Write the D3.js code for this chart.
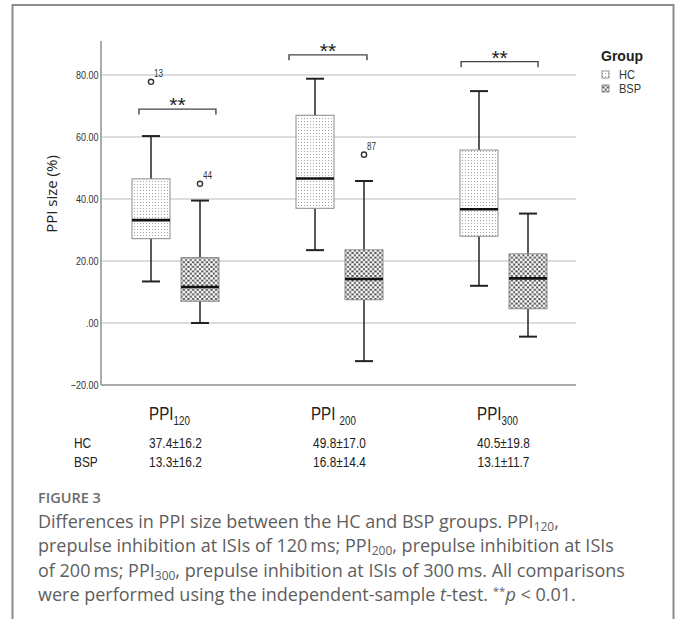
<!DOCTYPE html>
<html><head><meta charset="utf-8">
<script src="https://cdn.jsdelivr.net/npm/d3@7"></script>
<style>
body{margin:0;background:#fff}
svg{display:block}
.narrow{font-family:'Liberation Sans',Arial,sans-serif}
.cap{font-family:'Open Sans','Noto Sans',sans-serif}
</style></head><body>
<svg id="c" width="677" height="619"></svg>
<script>
// ---- data ----
const categories = ["PPI120", "PPI200", "PPI300"];
const catMain = ["PPI", "PPI ", "PPI"];
const catSub = ["120", "200", "300"];
const groups = ["HC", "BSP"];
// five-number summaries [min, q1, median, q3, max]
const hcBox = [[13.4, 27.2, 33.2, 46.5, 60.3], [23.5, 37.0, 46.6, 67.0, 78.8], [12.0, 28.0, 36.7, 55.8, 74.8]];
const bspBox = [[0.0, 7.0, 11.6, 21.1, 39.5], [-12.3, 7.5, 14.2, 23.6, 45.8], [-4.4, 4.6, 14.4, 22.3, 35.3]];
// outliers: [category index, group, value, case label]
const outliers = [[0, "HC", 77.8, "13"], [0, "BSP", 44.9, "44"], [1, "BSP", 54.3, "87"]];
// significance brackets: [category index, y value, from, to] (from/to in group-offset units, HC=-1, BSP=+1)
const brackets = [[0, 69.0, -1.49, 1.65], [1, 86.5, -2.06, 1.12], [2, 84.3, -1.73, 1.41]];
const yTicks = [80, 60, 40, 20, 0, -20];
const hcMeans = ["37.4±16.2", "49.8±17.0", "40.5±19.8"];
const bspMeans = ["13.3±16.2", "16.8±14.4", "13.1±11.7"];

const NARROW = 0.82; // horizontal condensing for the narrow SPSS font
const svg = d3.select("#c");
const defs = svg.append("defs");
// dotted pattern (HC)
const pd = defs.append("pattern").attr("id", "dots").attr("patternUnits", "userSpaceOnUse").attr("width", 3).attr("height", 3);
pd.append("rect").attr("width", 3).attr("height", 3).attr("fill", "#fff");
pd.append("rect").attr("x", 1).attr("y", 1).attr("width", 1).attr("height", 1).attr("fill", "#a3a3a3");
// lattice pattern (BSP)
const pl = defs.append("pattern").attr("id", "lattice").attr("patternUnits", "userSpaceOnUse").attr("width", 4.6).attr("height", 4.6);
pl.append("rect").attr("width", 4.6).attr("height", 4.6).attr("fill", "#1e1e1e");
[[0,0],[4.6,0],[0,4.6],[4.6,4.6],[2.3,2.3]].forEach(p => pl.append("circle").attr("cx", p[0]).attr("cy", p[1]).attr("r", 1.52).attr("fill", "#fff"));

// frame
svg.append("rect").attr("x", 12.5).attr("y", 5).attr("width", 661).attr("height", 660)
  .attr("fill", "none").attr("stroke", "#8c8c8c").attr("stroke-width", 2);

// scales
const y = d3.scaleLinear().domain([-20, 91]).range([385, 40.9]);
const x = d3.scalePoint().domain(categories).range([175.5, 503.5]);
const xin = d3.scaleLinear().domain([-1, 1]).range([-24.5, 24.5]);
const gOff = g => g === "HC" ? xin(-1) : xin(1);
const boxW = 38, capW = 18;
const plotL = 101, plotR = 576;

function narrowText(parent, px, py, size, anchor) {
  return parent.append("g").attr("transform", `translate(${px},${py}) scale(${NARROW},1)`)
    .append("text").attr("class", "narrow").attr("font-size", size).attr("text-anchor", anchor || "start").attr("fill", "#222");
}

// grid lines
svg.append("g").selectAll("line").data(yTicks.filter(d => d > -20)).join("line")
  .attr("x1", plotL).attr("x2", plotR).attr("y1", d => y(d)).attr("y2", d => y(d))
  .attr("stroke", "#d2d2d2").attr("stroke-width", 1.5);

// y axis
const yAxis = d3.axisLeft(y).tickValues(yTicks).tickSize(0).tickPadding(3)
  .tickFormat(d => d === 0 ? ".00" : d3.format(".2f")(d));
const ya = svg.append("g").attr("transform", `translate(${plotL},0)`).call(yAxis);
ya.select(".domain").remove();
ya.selectAll("text").attr("class", "narrow").attr("font-size", 11).attr("fill", "#333")
  .attr("transform", `scale(${NARROW},1)`);
svg.append("line").attr("x1", plotL).attr("x2", plotL).attr("y1", y.range()[1]).attr("y2", y(-20))
  .attr("stroke", "#8f8f8f").attr("stroke-width", 1.5);
svg.append("line").attr("x1", plotL).attr("x2", plotR).attr("y1", y(-20)).attr("y2", y(-20))
  .attr("stroke", "#8f8f8f").attr("stroke-width", 1.5);

// y label
svg.append("text").attr("transform", "translate(57,194) rotate(-90)").attr("text-anchor", "middle")
  .attr("font-family", "'Open Sans','Noto Sans',sans-serif").attr("font-size", 15).attr("fill", "#222").text("PPI size (%)");

// boxes
const boxes = [];
categories.forEach((c, i) => {
  boxes.push({c, g: "HC", s: hcBox[i]});
  boxes.push({c, g: "BSP", s: bspBox[i]});
});
const bg = svg.append("g").selectAll("g").data(boxes).join("g")
  .attr("transform", d => `translate(${x(d.c) + gOff(d.g)},0)`);
bg.append("line").attr("y1", d => y(d.s[0])).attr("y2", d => y(d.s[4]))
  .attr("stroke", "#222").attr("stroke-width", 1.5);
bg.append("rect").attr("x", -boxW / 2).attr("width", boxW)
  .attr("y", d => y(d.s[3])).attr("height", d => y(d.s[1]) - y(d.s[3]))
  .attr("fill", d => d.g === "HC" ? "url(#dots)" : "url(#lattice)")
  .attr("stroke", "#8c8c8c").attr("stroke-width", 1);
bg.append("line").attr("x1", -boxW / 2).attr("x2", boxW / 2).attr("y1", d => y(d.s[2])).attr("y2", d => y(d.s[2]))
  .attr("stroke", "#111").attr("stroke-width", 2.6);
[0, 4].forEach(k => bg.append("line").attr("x1", -capW / 2).attr("x2", capW / 2)
  .attr("y1", d => y(d.s[k])).attr("y2", d => y(d.s[k])).attr("stroke", "#222").attr("stroke-width", 2));

// outliers
const og = svg.append("g").selectAll("g").data(outliers).join("g")
  .attr("transform", d => `translate(${x(categories[d[0]]) + gOff(d[1])},${y(d[2])})`);
og.append("circle").attr("r", 2.6).attr("fill", "#fff").attr("stroke", "#333").attr("stroke-width", 1.4);
og.each(function(d) { narrowText(d3.select(this), 3, -5, 10, "start").attr("fill", "#333").text(d[3]); });

// significance brackets
const brg = svg.append("g").selectAll("g").data(brackets).join("g")
  .attr("transform", d => `translate(${x(categories[d[0]])},${y(d[1])})`);
brg.append("path").attr("d", d => `M${xin(d[2])},5.5V0H${xin(d[3])}V5.5`)
  .attr("fill", "none").attr("stroke", "#444").attr("stroke-width", 1.4);
brg.append("text").attr("x", d => (xin(d[2]) + xin(d[3])) / 2).attr("y", 3).attr("text-anchor", "middle")
  .attr("font-family", "'Liberation Sans',Arial,sans-serif").attr("font-size", 21).attr("fill", "#222").text("**");

// legend
const lg = svg.append("g").attr("transform", "translate(601,0)");
lg.append("text").attr("x", 0).attr("y", 61).attr("font-family", "'Liberation Sans',Arial,sans-serif")
  .attr("font-weight", "bold").attr("font-size", 14).attr("fill", "#222").text("Group");
groups.forEach((g, i) => {
  lg.append("rect").attr("x", 1).attr("y", 71 + i * 14).attr("width", 7).attr("height", 7)
    .attr("fill", g === "HC" ? "url(#dots)" : "url(#lattice)").attr("stroke", "#777").attr("stroke-width", 0.8);
  narrowText(lg, 18, 78.5 + i * 14, 13.5, "start").attr("fill", "#333").text(g);
});

// category labels
categories.forEach((c, i) => {
  const t = narrowText(svg, x(c) - 6, 420, 18.5, "middle");
  t.append("tspan").text(catMain[i]);
  t.append("tspan").attr("font-size", 12).attr("dy", 5).text(catSub[i]);
});

// summary table
const rows = [["HC", hcMeans, 448], ["BSP", bspMeans, 467]];
rows.forEach(r => {
  narrowText(svg, 74, r[2], 14.5, "start").text(r[0]);
  categories.forEach((c, i) => narrowText(svg, x(c), r[2], 14.5, "middle").text(r[1][i]));
});

// caption
svg.append("text").attr("x", 38).attr("y", 503).attr("class", "cap").attr("font-size", 14.5)
  .attr("font-weight", 600).attr("fill", "#6b6b6b").text("FIGURE 3");
const capLines = [
  [["Differences in PPI size between the HC and BSP groups. PPI"], ["120", "sub"], [","]],
  [["prepulse inhibition at ISIs of 120\u2009ms; PPI"], ["200", "sub"], [", prepulse inhibition at ISIs"]],
  [["of 200\u2009ms; PPI"], ["300", "sub"], [", prepulse inhibition at ISIs of 300\u2009ms. All comparisons"]],
  [["were performed using the independent-sample "], ["t", "it"], ["-test. "], ["**", "sup"], ["p", "it"], [" < 0.01."]]
];
capLines.forEach((ln, i) => {
  const t = svg.append("text").attr("x", 38).attr("y", 528 + i * 24.4).attr("class", "cap")
    .attr("font-size", 18).attr("fill", "#5e5e5e");
  let shift = 0;
  ln.forEach(seg => {
    const s = t.append("tspan").text(seg[0]);
    let target = 0;
    if (seg[1] === "sub") { s.attr("font-size", 12); target = 3; }
    if (seg[1] === "sup") { s.attr("font-size", 11.5); target = -6; }
    if (seg[1] === "it") s.attr("font-style", "italic");
    s.attr("dy", target - shift); shift = target;
  });
});
</script>
</body></html>
